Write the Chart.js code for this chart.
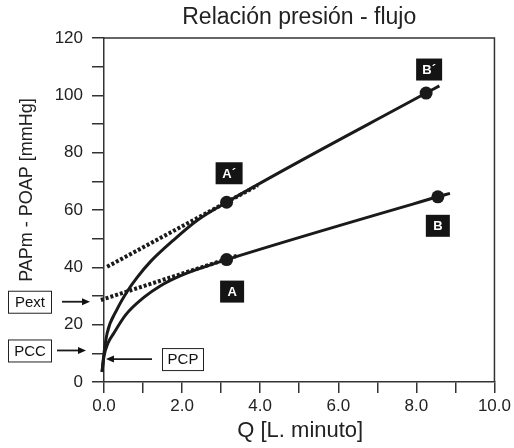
<!DOCTYPE html>
<html>
<head>
<meta charset="utf-8">
<script src="https://cdn.jsdelivr.net/npm/chart.js@4.4.1/dist/chart.umd.min.js"></script>
<style>
  body { margin: 0; background: #fff; }
  canvas { display: block; }
</style>
</head>
<body>
<canvas id="chart" width="514" height="448"></canvas>
<script>
// curva superior (A´ - B´)
const upperQ = [-0.05, 0.0, 0.08, 0.34, 0.59, 0.85, 1.19, 1.78, 2.4, 3.14, 8.25, 8.59];
const upperP = [3.5, 10, 17, 25.5, 31.5, 36.5, 42, 49.5, 56.5, 62.7, 100.8, 103.3];

// curva inferior (A - B)
const lowerQ = [-0.05, 0.0, 0.1, 0.25, 0.56, 1.02, 1.44, 1.95, 2.54, 3.14, 8.55, 8.86];
const lowerP = [3.5, 9, 13.5, 17, 23.5, 29.5, 33.5, 37, 40, 42.7, 64.6, 65.8];

// tangentes punteadas
const upperTanQ = [0.08, 3.94];
const upperTanP = [40.2, 68.6];
const lowerTanQ = [-0.08, 3.4];
const lowerTanP = [28.6, 44];

// puntos marcados
const markerQ = [3.14, 8.25, 3.14, 8.55];
const markerP = [62.7, 100.8, 42.7, 64.6];
const markerLabels = ["A´", "B´", "A", "B"];

// referencias con flecha
const refLabels = ["Pext", "PCC", "PCP"];
const refValues = [28, 11, 8];

const xTickLabels = ["0.0", "2.0", "4.0", "6.0", "8.0", "10.0"];
const yTickLabels = ["0", "20", "40", "60", "80", "100", "120"];

const FONT = "'Liberation Sans', Arial, sans-serif";
const INK = "#1a1a1a";

function toPoints(qs, ps) {
  return qs.map((q, i) => ({ x: q, y: ps[i] }));
}

// posiciones de las etiquetas (pixeles, relativas al punto)
const markerBoxes = [
  { dx: 2.5, dy: -29, w: 27 },
  { dx: 3, dy: -23.5, w: 26 },
  { dx: 5.5, dy: 32, w: 24 },
  { dx: 0, dy: 29, w: 24 },
];
const refBoxes = [
  { left: 8, w: 43, from: 62, toQ: null, to: 90 },
  { left: 8, w: 43, from: 57, toQ: null, to: 86 },
  { left: 162, w: 41, from: 152, toQ: 0.05 },
];

function arrow(ctx, x1, x2, y) {
  const dir = x2 > x1 ? 1 : -1;
  ctx.beginPath();
  ctx.moveTo(x1, y);
  ctx.lineTo(x2 - dir * 7, y);
  ctx.stroke();
  ctx.beginPath();
  ctx.moveTo(x2, y);
  ctx.lineTo(x2 - dir * 8, y - 3.5);
  ctx.lineTo(x2 - dir * 8, y + 3.5);
  ctx.closePath();
  ctx.fill();
}

const decor = {
  id: "decor",
  afterDraw(chart) {
    const ctx = chart.ctx;
    const area = chart.chartArea;
    const xs = chart.scales.x;
    const ys = chart.scales.y;
    ctx.save();

    // marco arriba y derecha
    ctx.strokeStyle = "#333";
    ctx.lineWidth = 1.5;
    ctx.beginPath();
    ctx.moveTo(area.left, area.top);
    ctx.lineTo(area.right, area.top);
    ctx.lineTo(area.right, area.bottom);
    ctx.stroke();

    // titulos
    ctx.fillStyle = "#222";
    ctx.textAlign = "center";
    ctx.textBaseline = "middle";
    ctx.font = "23px " + FONT;
    ctx.fillText("Relación presión - flujo", (area.left + area.right) / 2, 18);
    ctx.font = "22px " + FONT;
    ctx.fillText("Q [L. minuto]", (area.left + area.right) / 2 + 1, 431);
    ctx.save();
    ctx.translate(27, 190);
    ctx.rotate(-Math.PI / 2);
    ctx.font = "18px " + FONT;
    ctx.fillText("PAPm - POAP [mmHg]", 0, 0);
    ctx.restore();

    // etiquetas negras
    ctx.font = "bold 13px " + FONT;
    markerLabels.forEach((lab, i) => {
      const b = markerBoxes[i];
      const cx = xs.getPixelForValue(markerQ[i]) + b.dx;
      const cy = ys.getPixelForValue(markerP[i]) + b.dy;
      ctx.fillStyle = "#141414";
      ctx.fillRect(cx - b.w / 2, cy - 11, b.w, 22);
      ctx.fillStyle = "#fff";
      ctx.fillText(lab, cx, cy + 1);
    });

    // cajas con flecha
    ctx.font = "15px " + FONT;
    refLabels.forEach((lab, i) => {
      const b = refBoxes[i];
      const y = ys.getPixelForValue(refValues[i]);
      ctx.fillStyle = "#fff";
      ctx.strokeStyle = "#222";
      ctx.fillRect(b.left, y - 11, b.w, 22);
      ctx.lineWidth = 1;
      ctx.strokeRect(b.left + 0.5, y - 11 + 0.5, b.w, 22);
      ctx.fillStyle = "#111";
      ctx.fillText(lab, b.left + b.w / 2 + 0.5, y + 1);
      const to = b.toQ !== null ? xs.getPixelForValue(b.toQ) : b.to;
      ctx.strokeStyle = INK;
      ctx.lineWidth = 1.8;
      arrow(ctx, b.from, to, y);
    });

    ctx.restore();
  },
};

const curveStyle = {
  showLine: true,
  borderColor: INK,
  borderWidth: 3,
  pointRadius: 0,
  cubicInterpolationMode: "monotone",
  clip: false,
};
const dotStyle = {
  showLine: true,
  borderColor: INK,
  borderWidth: 4,
  borderDash: [3, 2],
  pointRadius: 0,
  clip: false,
};

new Chart(document.getElementById("chart"), {
  type: "scatter",
  data: {
    datasets: [
      Object.assign({ data: toPoints(upperTanQ, upperTanP) }, dotStyle),
      Object.assign({ data: toPoints(lowerTanQ, lowerTanP) }, dotStyle),
      Object.assign({ data: toPoints(upperQ, upperP) }, curveStyle),
      Object.assign({ data: toPoints(lowerQ, lowerP) }, curveStyle),
      {
        data: toPoints(markerQ, markerP),
        pointRadius: 6.5,
        pointBackgroundColor: INK,
        pointBorderWidth: 0,
        showLine: false,
      },
    ],
  },
  options: {
    responsive: false,
    animation: false,
    layout: { padding: { top: 38, right: 16, left: 0, bottom: 0 } },
    plugins: { legend: { display: false }, title: { display: false }, tooltip: { enabled: false } },
    scales: {
      x: {
        type: "linear",
        min: 0,
        max: 10,
        afterFit(scale) { scale.height = 66; },
        border: { color: "#333", width: 1.5 },
        grid: { drawOnChartArea: false, tickLength: 11, color: "#333", lineWidth: 1.5 },
        ticks: {
          stepSize: 1,
          autoSkip: false,
          maxRotation: 0,
          padding: 3,
          color: "#222",
          font: { family: FONT, size: 17 },
          callback: (v) => (v % 2 === 0 ? xTickLabels[v / 2] : ""),
        },
      },
      y: {
        min: 0,
        max: 120,
        afterFit(scale) { scale.width = 104; },
        border: { color: "#333", width: 1.5 },
        grid: { drawOnChartArea: false, tickLength: 12, color: "#333", lineWidth: 1.5 },
        ticks: {
          stepSize: 10,
          autoSkip: false,
          padding: 9,
          color: "#222",
          font: { family: FONT, size: 17 },
          callback: (v) => (v % 20 === 0 ? yTickLabels[v / 20] : ""),
        },
      },
    },
  },
  plugins: [decor],
});
</script>
</body>
</html>
